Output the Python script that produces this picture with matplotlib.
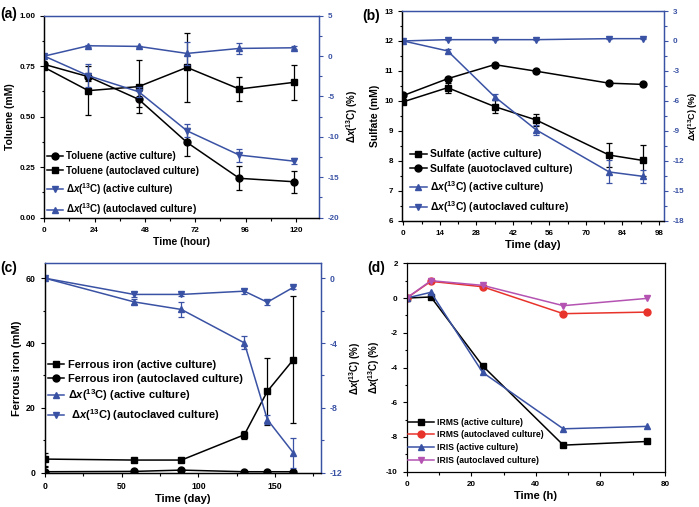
import matplotlib
matplotlib.use("Agg")
import matplotlib.pyplot as plt
from matplotlib.ticker import MultipleLocator, FormatStrFormatter
from matplotlib.lines import Line2D

plt.rcParams['font.family'] = ['Liberation Sans', 'DejaVu Sans']
plt.rcParams['font.weight'] = 'bold'
plt.rcParams['axes.unicode_minus'] = False
plt.rcParams['mathtext.fontset'] = 'custom'
plt.rcParams['mathtext.rm'] = 'Liberation Sans:bold'
plt.rcParams['mathtext.it'] = 'Liberation Sans:italic:bold'
plt.rcParams['mathtext.bf'] = 'Liberation Sans:bold'

BLUE = '#3a52a4'
RED = '#e8332b'
PURPLE = '#b453b2'
DX = r'$\Delta \mathit{x}$($^{13}$C)'

# ---------------- data (a) ----------------
a_time = [0, 21, 45, 68, 93, 119]
a_tol_active = [0.759, 0.698, 0.586, 0.373, 0.195, 0.178]
a_tol_active_err = [0.01, 0.02, 0.04, 0.07, 0.06, 0.055]
a_tol_auto = [0.744, 0.629, 0.649, 0.744, 0.637, 0.670]
a_tol_auto_err = [0.01, 0.12, 0.13, 0.17, 0.06, 0.085]
a_dx_active = [0, -2.43, -4.41, -9.24, -12.25, -13.0]
a_dx_active_err = [0.1, 1.4, 0.6, 0.8, 0.8, 0.35]
a_dx_auto = [0, 1.28, 1.20, 0.33, 0.95, 1.03]
a_dx_auto_err = [0.1, 0.1, 0.1, 1.4, 0.7, 0.2]

# ---------------- data (b) ----------------
b_time = [0, 17, 35, 51, 79, 92]
b_sul_active = [9.97, 10.44, 9.81, 9.36, 8.19, 8.01]
b_sul_active_err = [0.05, 0.17, 0.23, 0.20, 0.41, 0.53]
b_sul_auto = [10.18, 10.74, 11.21, 10.99, 10.59, 10.55]
b_sul_auto_err = [0.05, 0.05, 0.05, 0.05, 0.05, 0.05]
b_dx_active = [0, -1.0, -5.58, -8.91, -13.12, -13.56]
b_dx_active_err = [0.1, 0.2, 0.3, 0.5, 1.15, 0.67]
b_dx_auto = [0, 0.13, 0.13, 0.13, 0.23, 0.23]
b_dx_auto_err = [0.05, 0.05, 0.05, 0.05, 0.05, 0.05]

# ---------------- data (c) ----------------
c_time = [0, 58, 89, 130, 145, 162]
c_fe_active = [4.2, 3.9, 3.9, 11.7, 25.1, 34.9]
c_fe_active_err = [2.0, 0.5, 0.5, 1.3, 10.3, 19.7]
c_fe_auto = [0.3, 0.4, 0.8, 0.3, 0.3, 0.3]
c_fe_auto_err = [1.5, 0.2, 0.2, 0.2, 0.2, 0.2]
c_dx_active = [0, -1.46, -1.93, -3.99, -8.72, -10.78]
c_dx_active_err = [0.05, 0.15, 0.45, 0.4, 0.3, 0.9]
c_dx_auto = [0, -1.0, -1.0, -0.8, -1.48, -0.56]
c_dx_auto_err = [0.05, 0.15, 0.1, 0.15, 0.15, 0.1]

# ---------------- data (d) ----------------
d_time = [0, 7.5, 23.5, 48.5, 74.5]
d_irms_active = [0, 0.06, -3.9, -8.47, -8.26]
d_irms_auto = [0, 0.96, 0.65, -0.9, -0.81]
d_iris_active = [0, 0.33, -4.28, -7.53, -7.39]
d_iris_auto = [0, 1.0, 0.73, -0.44, -0.02]

W, H = 699, 507
fig = plt.figure(figsize=(W / 100, H / 100), dpi=100)


def ax_px(l, r, t, b):
    return fig.add_axes([l / W, 1 - b / H, (r - l) / W, (b - t) / H])


TICK_FS = 5.8


def style_axes(ax, right=None, fs=TICK_FS):
    for a in [ax] + ([right] if right is not None else []):
        a.tick_params(which='both', direction='out', labelsize=fs, width=0.8)
        a.tick_params(which='major', length=3)
        a.tick_params(which='minor', length=1.8)
        for lab in a.get_xticklabels() + a.get_yticklabels():
            lab.set_fontweight('bold')
    for s in ax.spines.values():
        s.set_linewidth(0.9)
    if right is not None:
        right.spines['right'].set_color(BLUE)
        right.spines['top'].set_color(BLUE)
        right.spines['left'].set_color('black')
        right.spines['bottom'].set_color('black')
        ax.spines['top'].set_color(BLUE)
        ax.spines['right'].set_color(BLUE)
        right.tick_params(axis='y', which='both', colors=BLUE)
        for s in right.spines.values():
            s.set_linewidth(0.9)


def handle(color, marker):
    return Line2D([], [], color=color, marker=marker, lw=1.1, ms=5)


EB = dict(capsize=2.2, elinewidth=0.9, capthick=0.9, lw=1.1, ms=5)

# ================= (a) =================
ax = ax_px(44.3, 319, 15.7, 217.7)
axr = ax.twinx()
ax.errorbar(a_time, a_tol_active, yerr=a_tol_active_err, color='black', marker='o', **EB)
ax.errorbar(a_time, a_tol_auto, yerr=a_tol_auto_err, color='black', marker='s', **EB)
axr.errorbar(a_time, a_dx_active, yerr=a_dx_active_err, color=BLUE, marker='v', **EB)
axr.errorbar(a_time, a_dx_auto, yerr=a_dx_auto_err, color=BLUE, marker='^', **EB)
ax.set_xlim(0, 131)
ax.set_ylim(0, 1)
axr.set_ylim(-20, 5)
ax.xaxis.set_major_locator(MultipleLocator(24))
ax.xaxis.set_minor_locator(MultipleLocator(12))
ax.yaxis.set_major_locator(MultipleLocator(0.25))
ax.yaxis.set_minor_locator(MultipleLocator(0.125))
ax.yaxis.set_major_formatter(FormatStrFormatter('%.2f'))
axr.yaxis.set_major_locator(MultipleLocator(5))
axr.yaxis.set_minor_locator(MultipleLocator(2.5))
style_axes(ax, axr)
ax.set_xlabel('Time (hour)', fontsize=7.5, fontweight='bold', labelpad=2)
ax.set_ylabel('Toluene (mM)', fontsize=7.5, fontweight='bold', labelpad=3)
axr.set_ylabel(DX + ' (%)', fontsize=7, fontweight='bold', labelpad=3)
ax.legend([handle('black', 'o'), handle('black', 's'), handle(BLUE, 'v'), handle(BLUE, '^')],
          ['Toluene (active culture)', 'Toluene (autoclaved culture)',
           DX + ' (active culture)', DX + ' (autoclaved culture)'],
          loc='upper left', bbox_to_anchor=(0.01, 0.33), frameon=False,
          prop={'size': 7, 'weight': 'bold'}, handlelength=1.6, handletextpad=0.3,
          labelspacing=0.5, borderaxespad=0, borderpad=0)
fig.text(0.0, 1 - 18 / H, '(a)', fontsize=10, fontweight='bold')

# ================= (b) =================
ax = ax_px(402.3, 664, 11, 220.7)
axr = ax.twinx()
ax.errorbar(b_time, b_sul_active, yerr=b_sul_active_err, color='black', marker='s', **EB)
ax.errorbar(b_time, b_sul_auto, yerr=b_sul_auto_err, color='black', marker='o', **EB)
axr.errorbar(b_time, b_dx_active, yerr=b_dx_active_err, color=BLUE, marker='^', **EB)
axr.errorbar(b_time, b_dx_auto, yerr=b_dx_auto_err, color=BLUE, marker='v', **EB)
ax.set_xlim(-0.4, 100)
ax.set_ylim(6, 13)
axr.set_ylim(-18, 3)
ax.xaxis.set_major_locator(MultipleLocator(14))
ax.xaxis.set_minor_locator(MultipleLocator(7))
ax.yaxis.set_major_locator(MultipleLocator(1))
ax.yaxis.set_minor_locator(MultipleLocator(0.5))
axr.yaxis.set_major_locator(MultipleLocator(3))
axr.yaxis.set_minor_locator(MultipleLocator(1.5))
style_axes(ax, axr)
ax.set_xlabel('Time (day)', fontsize=8, fontweight='bold', labelpad=2)
ax.set_ylabel('Sulfate (mM)', fontsize=7.5, fontweight='bold', labelpad=3)
axr.set_ylabel(DX + ' (%)', fontsize=6.5, fontweight='bold', labelpad=1)
ax.legend([handle('black', 's'), handle('black', 'o'), handle(BLUE, '^'), handle(BLUE, 'v')],
          ['Sulfate (active culture)', 'Sulfate (auotoclaved culture)',
           DX + ' (active culture)', DX + ' (autoclaved culture)'],
          loc='upper left', bbox_to_anchor=(0.03, 0.34), frameon=False,
          prop={'size': 7.5, 'weight': 'bold'}, handlelength=1.6, handletextpad=0.3,
          labelspacing=0.45, borderaxespad=0, borderpad=0)
fig.text(362 / W, 1 - 20 / H, '(b)', fontsize=10, fontweight='bold')

# ================= (c) =================
ax = ax_px(45, 321, 263.3, 472.7)
axr = ax.twinx()
ax.errorbar(c_time, c_fe_active, yerr=c_fe_active_err, color='black', marker='s', **EB)
ax.errorbar(c_time, c_fe_auto, yerr=c_fe_auto_err, color='black', marker='o', **EB)
axr.errorbar(c_time, c_dx_active, yerr=c_dx_active_err, color=BLUE, marker='^', **EB)
axr.errorbar(c_time, c_dx_auto, yerr=c_dx_auto_err, color=BLUE, marker='v', **EB)
ax.set_xlim(0, 180)
ax.set_ylim(0, 64.6)
axr.set_ylim(-12, 0.92)
ax.xaxis.set_major_locator(MultipleLocator(50))
ax.xaxis.set_minor_locator(MultipleLocator(25))
ax.yaxis.set_major_locator(MultipleLocator(20))
ax.yaxis.set_minor_locator(MultipleLocator(10))
axr.yaxis.set_major_locator(MultipleLocator(4))
axr.yaxis.set_minor_locator(MultipleLocator(2))
style_axes(ax, axr, fs=6.3)
ax.set_xlabel('Time (day)', fontsize=8, fontweight='bold', labelpad=2)
ax.set_ylabel('Ferrous iron (mM)', fontsize=8, fontweight='bold', labelpad=3)
axr.set_ylabel(DX + ' (%)', fontsize=7, fontweight='bold', labelpad=3)
ax.legend([handle('black', 's'), handle('black', 'o'), handle(BLUE, '^'), handle(BLUE, 'v')],
          ['Ferrous iron (active culture)', 'Ferrous iron (autoclaved culture)',
           DX + ' (active culture)', ' ' + DX + ' (autoclaved culture)'],
          loc='upper left', bbox_to_anchor=(0.01, 0.54), frameon=False,
          prop={'size': 8, 'weight': 'bold'}, handlelength=1.5, handletextpad=0.3,
          labelspacing=0.35, borderaxespad=0, borderpad=0)
fig.text(0.0, 1 - 272 / H, '(c)', fontsize=10, fontweight='bold')

# ================= (d) =================
ax = ax_px(406.7, 665, 263.3, 471.7)
DEB = dict(lw=1.1, ms=5)
l1, = ax.plot(d_time, d_irms_active, color='black', marker='s', **DEB)
l2, = ax.plot(d_time, d_irms_auto, color=RED, marker='o', **DEB)
l3, = ax.plot(d_time, d_iris_active, color=BLUE, marker='^', **DEB)
l4, = ax.plot(d_time, d_iris_auto, color=PURPLE, marker='v', **DEB)
ax.set_xlim(0, 80)
ax.set_ylim(-10, 2)
ax.xaxis.set_major_locator(MultipleLocator(20))
ax.xaxis.set_minor_locator(MultipleLocator(10))
ax.yaxis.set_major_locator(MultipleLocator(2))
ax.yaxis.set_minor_locator(MultipleLocator(1))
style_axes(ax)
ax.set_xlabel('Time (h)', fontsize=8, fontweight='bold', labelpad=2)
ax.set_ylabel(DX + ' (%)', fontsize=7, fontweight='bold', labelpad=3)
ax.legend([l1, l2, l3, l4],
          ['IRMS (active culture)', 'IRMS (autoclaved culture)',
           'IRIS (active culture)', 'IRIS (autoclaved culture)'],
          loc='upper left', bbox_to_anchor=(0.005, 0.26), frameon=False,
          prop={'size': 6.2, 'weight': 'bold'}, handlelength=3.0, handletextpad=0.4,
          labelspacing=0.45, borderaxespad=0, borderpad=0)
fig.text(367 / W, 1 - 272 / H, '(d)', fontsize=10, fontweight='bold')

fig.savefig('out.png', dpi=100)
